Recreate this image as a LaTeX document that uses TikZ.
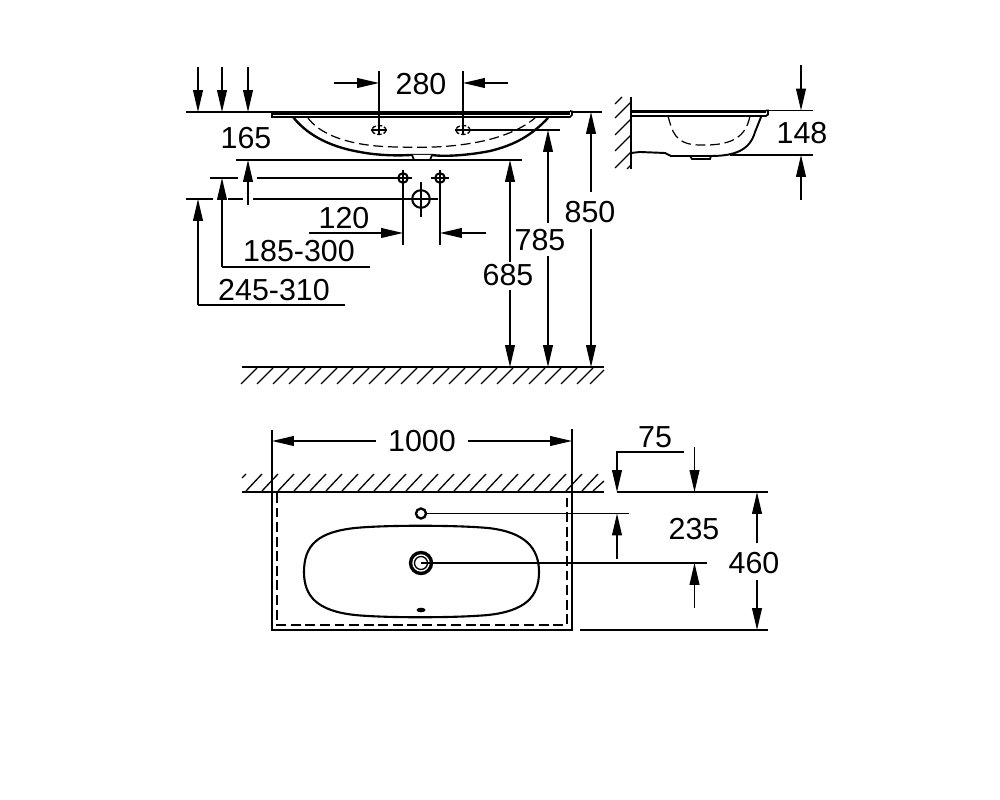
\documentclass[tikz,border=0pt]{standalone}
\usepackage{fontspec}
\setmainfont{Liberation Sans}
\usepackage{tikz}
\usetikzlibrary{arrows.meta, positioning, calc}
\tikzset{
  thinline/.style={line width=0.75pt, black},
  thickline/.style={line width=1.35pt, black},
  hiddenline/.style={line width=0.7pt, black, dash pattern=on 5.6pt off 2.7pt},
  dimarrow/.style={thinline, -{Triangle[length=12.5pt, width=5.6pt]}},
  dimtext/.style={inner sep=0pt, font=\fontsize{17.3}{19}\selectfont, text=black}
}

\begin{document}
\begin{tikzpicture}[x=0.02cm, y=-0.02cm]
\useasboundingbox (0,0) rectangle (1000,800);

% Labels
\node (t280) [dimtext] at (421,84) {280};
\node (t165) [dimtext] at (246,138) {165};
\node (t120) [dimtext] at (344,218) {120};
\node (t185) [dimtext] at (299,251) {185-300};
\node (t245) [dimtext] at (274,290) {245-310};
\node (t685) [dimtext] at (508,275) {685};
\node (t785) [dimtext] at (540,240) {785};
\node (t850) [dimtext] at (590,212) {850};
\node (t148) [dimtext] at (802,133) {148};
\node (t1000) [dimtext] at (422,441) {1000};
\node (t75) [dimtext] at (655,437) {75};
\node (t235) [dimtext] at (694,529) {235};
\node (t460) [dimtext] at (754,563) {460};

% Front view
\coordinate (rimL) at (272,112);
\coordinate (rimR) at (572,112);
\fill (272,111) rectangle (570,115);
\draw [line width=1pt] (272,111.5) -- (272,117) -- (570,117) -- (572,115) -- (572,111.5) -- (570,111);
\draw [thickline] (293,117) .. controls (305,132) and (325,146) .. (360,152) .. controls (375,155) and (395,156) .. (410,155) -- (432,155) .. controls (445,157) and (470,155) .. (490,151) .. controls (515,145) and (532,135) .. (548,118);
\draw [thinline, line width=1pt, fill=white] (412,155) -- (414,160) -- (430,160) -- (432,155);
\draw [hiddenline] (308,118) .. controls (318,132) and (345,147) .. (400,147) .. controls (450,149) and (505,143) .. (535,118);
\foreach \xh/\nm in {379/holeA, 463/holeB} {
  \coordinate (\nm) at (\xh,130);
  \draw [thinline, dash pattern=on 2.5pt off 1.2pt] (\nm) ellipse [x radius=7, y radius=4.5];
  \draw [thinline] (\xh-8,130) -- (\xh+8,130);
}

% 280
\draw [thinline] (379,71) -- (holeA |- 0,135);
\draw [thinline] (463,71) -- (holeB |- 0,135);
\coordinate (a280L) at (334,83);
\coordinate (a280R) at (508,83);
\draw [dimarrow] (a280L) -- (a280L -| holeA);
\draw [dimarrow] (a280R) -- (a280R -| holeB);

% Left datum arrows
\draw [thinline] (186,112) -- (rimL);
\foreach \xa in {198,222,248} {
  \draw [dimarrow] (\xa,67) -- (\xa,112);
}
\draw [thinline] (236,160) -- (522,160);
\draw [dimarrow] (248,205) -- (248,160);

% Tap holes and waste
\foreach \xh/\nm in {403/tapA, 440/tapB} {
  \coordinate (\nm) at (\xh,178);
  \draw [line width=1.15pt] (\nm) circle (4.8);
  \draw [thinline] (\xh-9,178) -- (\xh+9,178);
  \draw [thinline] (\xh,170) -- (\xh,245);
}
\draw [thinline] (210,178) -- (238,178);
\draw [thinline] (257,178) -- (tapA);
\coordinate (waste) at (421,199);
\draw [thinline] (186,199) -- (213,199);
\draw [thinline] (228,199) -- (243,199);
\draw [thinline] (253,199) -- (438,199);
\draw [thinline] (421,182) -- (421,217);
\draw [line width=1.15pt] (waste) circle (8.8);

% 120
\draw [dimarrow] (309,233) -- (403,233);
\draw [dimarrow] (486,233) -- (440,233);

% 185-300 and 245-310
\draw [thinline] (370,267) -- (222,267);
\draw [dimarrow] (222,267) -- (222,178);
\draw [thinline] (345,305) -- (198,305);
\draw [dimarrow] (198,305) -- (198,199);

% Heights
\coordinate (floor) at (242,367);
\draw [thinline] (463,130) -- (560,130);
\draw [thinline] (572,112) -- (602,112);
\draw [dimarrow] (510,262) -- (510,160);
\draw [dimarrow] (510,290) -- (510,367);
\draw [dimarrow] (548,223) -- (548,130);
\draw [dimarrow] (548,256) -- (548,367);
\draw [dimarrow] (591,192) -- (591,112);
\draw [dimarrow] (591,229) -- (591,367);

% Floor
\draw [thickline] (floor) -- (604,367);
\foreach \xh in {257,273,...,597} {
  \draw [thinline] (\xh,368) -- (\xh-16,384);
}
\draw [thinline] (604,370) -- (590,384);

% Side view
\draw [thickline] (631,97) -- (631,169);
\draw [thinline] (622,97) -- (615,104);
\foreach \yh in {102,119,135,152} {
  \draw [thinline] (631,\yh) -- (615,\yh+16);
}
\draw [thinline] (631,165) -- (627,169);
\fill (631,110) rectangle (766,113.5);
\draw [line width=1pt] (631,116) -- (766,116) -- (768,114.5) -- (768,110.5) -- (766,110.5);
\draw [line width=1.1pt] (631,153) -- (640,152) -- (665,153) -- (671,156) -- (711,156) .. controls (735,156) and (750,150) .. (755,132) -- (761,117);
\draw [thinline, line width=1pt] (690,156) -- (692,159) -- (710,159) -- (711,156);
\draw [hiddenline] (668,116) .. controls (672,130) and (674,145) .. (700,145) .. controls (735,146) and (746,135) .. (750,116);
\coordinate (sideT) at (801,110.5);
\coordinate (sideB) at (801,155);
\draw [thinline] (768,110.5) -- (813,110.5);
\draw [thinline] (730,155) -- (813,155);
\draw [dimarrow] (801,65) -- (sideT);
\draw [dimarrow] (801,200) -- (sideB);

% Plan view
\draw [thickline] (242,492) -- (604,492);
\foreach \xh in {262,278,...,598} {
  \draw [thinline] (\xh,474) -- (\xh-16,491);
}
\draw [thinline] (246,474) -- (242,478);
\draw [thinline] (593,491) -- (604,481);
\draw [thickline] (272,492) -- (272,630) -- (572,630) -- (572,492);
\draw [hiddenline] (277,493) -- (277,625) -- (567,625) -- (567,493);
\draw [line width=1.2pt] (304,572) .. controls (304,545) and (318,532) .. (355,528) .. controls (385,525) and (455,525) .. (488,528) .. controls (525,532) and (539,548) .. (539,572) .. controls (539,597) and (525,611) .. (488,615) .. controls (455,618) and (385,618) .. (355,615) .. controls (318,611) and (304,597) .. (304,572) -- cycle;
\coordinate (tapP) at (421,513.5);
\coordinate (drainP) at (421,563);
\draw [thickline] (tapP) circle (5);
\draw [line width=1.9pt] (drainP) circle (10.5);
\draw [thinline] (drainP) circle (6.5);
\fill (421,610) ellipse [x radius=4.5, y radius=2.3];
\draw [thinline] (426,513.5) -- (629,513.5);
\draw [thinline] (drainP) -- (707,563);

% 1000
\draw [thinline] (272,430) -- (272,492);
\draw [thinline] (572,429) -- (572,492);
\draw [dimarrow] (t1000.west) ++(-12,0) -- (272,441);
\draw [dimarrow] (t1000.east) ++(12,0) -- (572,441);

% 75
\coordinate (wallA) at (617,492);
\coordinate (wallB) at (694.5,492);
\draw [thinline] (617,492) -- (768,492);
\draw [dimarrow] (684,452) -- (617,452) -- (wallA);
\draw [dimarrow] (694.5,447) -- (wallB);

% 235
\draw [dimarrow] (617,559) -- (617,513.5);
\draw [dimarrow] (694.5,608) -- (694.5,563);

% 460
\draw [thinline] (580,630) -- (768,630);
\draw [dimarrow] (757,543) -- (757,492);
\draw [dimarrow] (757,580) -- (757,630);

\end{tikzpicture}
\end{document}
